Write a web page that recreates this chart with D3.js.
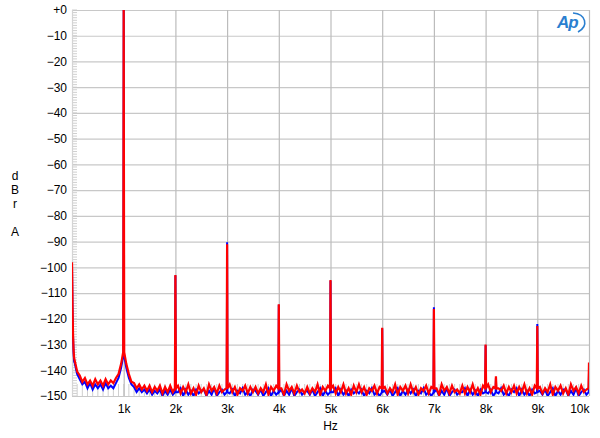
<!DOCTYPE html>
<html>
<head>
<meta charset="utf-8">
<script src="https://cdn.jsdelivr.net/npm/d3@7"></script>
<style>
  body { margin: 0; background: #fff; }
  text { font-family: "Liberation Sans", Arial, sans-serif; fill: #000; }
</style>
</head>
<body>
<div id="chart"></div>
<script>
var width = 600,
    height = 438,
    margin = {top: 10, right: 11, bottom: 42, left: 72};

// floor of the spectrum, one value every 50 Hz from 0 to 10 kHz
var floorStep = 50;

var redFloor = [
  -98, -136, -140.5, -142, -144.5, -143, -145.5, -144, -146, -143.5,
  -145.5, -144, -146, -143.5, -145.5, -144, -145, -143, -141.5, -137.5,
  -133, -137.5, -141.5, -144.5, -145, -147, -145.5, -147.5, -146, -148,
  -146, -148.5, -146.5, -148, -146, -149, -146.5, -148.5, -146, -148.5,
  -147,
  -146, -149, -146.5, -148.5, -145.5, -149, -147, -149.5, -146, -148.5,
  -147, -149.5, -145.5, -148, -146.5, -149, -146, -148.5, -147.5, -149,
  -145.5, -148.5, -146.5, -149.5, -147, -148, -146, -149, -146.5, -148.5,
  -146.5, -149, -147, -148.5, -145.5, -149.5, -146.5, -148, -146, -149,
  -147, -149.5, -145.5, -148, -146.5, -149, -146, -148.5, -147.5, -149,
  -146.5, -149, -147, -148.5, -145.5, -149.5, -146.5, -148, -146, -149,
  -146, -149, -146.5, -148.5, -145.5, -149, -147, -149.5, -146, -148.5,
  -145.5, -148.5, -146.5, -149.5, -147, -148, -146, -149, -146.5, -148.5,
  -146.5, -149, -147, -148.5, -145.5, -149.5, -146.5, -148, -146, -149,
  -145.5, -148.5, -146.5, -149.5, -147, -148, -146, -149, -146.5, -148.5,
  -147, -149.5, -145.5, -148, -146.5, -149, -146, -148.5, -147.5, -149,
  -146, -149, -146.5, -148.5, -145.5, -149, -147, -149.5, -146, -148.5,
  -145.5, -148.5, -146.5, -149.5, -147, -148, -146, -149, -146.5, -148.5,
  -146, -149, -146.5, -148.5, -145.5, -149, -147, -149.5, -146, -148.5,
  -146.5, -149, -147, -148.5, -145.5, -149.5, -146.5, -148, -146, -149,
  -147, -149.5, -145.5, -148, -146.5, -149, -146, -148.5, -147.5, -149
];

var blueFloor = [
  -98.5, -137, -141.5, -143.5, -145.5, -144.5, -147, -145, -147.5, -145.5,
  -147, -145.5, -147.5, -145, -147, -146, -147, -145, -143, -139,
  -134, -139, -143, -145.5, -146.5, -148.5, -147, -148.5, -147.5, -149,
  -147.5, -149.5, -148, -149, -147.5, -150, -148, -149.5, -147.5, -149.5,
  -148.5,
  -148.5, -147, -150, -147.5, -149.5, -148, -150.5, -147.5, -149, -148,
  -147.5, -150, -148, -149.5, -147, -150, -148.5, -147.5, -149.5, -148.5,
  -149, -147.5, -150.5, -148, -149, -147, -149.5, -148.5, -150, -147.5,
  -148, -149.5, -147.5, -150, -148.5, -147, -150, -148, -149.5, -147.5,
  -147.5, -150, -148, -149.5, -147, -150, -148.5, -147.5, -149.5, -148.5,
  -148, -149.5, -147.5, -150, -148.5, -147, -150, -148, -149.5, -147.5,
  -148.5, -147, -150, -147.5, -149.5, -148, -150.5, -147.5, -149, -148,
  -149, -147.5, -150.5, -148, -149, -147, -149.5, -148.5, -150, -147.5,
  -148, -149.5, -147.5, -150, -148.5, -147, -150, -148, -149.5, -147.5,
  -149, -147.5, -150.5, -148, -149, -147, -149.5, -148.5, -150, -147.5,
  -147.5, -150, -148, -149.5, -147, -150, -148.5, -147.5, -149.5, -148.5,
  -148.5, -147, -150, -147.5, -149.5, -148, -150.5, -147.5, -149, -148,
  -149, -147.5, -150.5, -148, -149, -147, -149.5, -148.5, -150, -147.5,
  -148.5, -147, -150, -147.5, -149.5, -148, -150.5, -147.5, -149, -148,
  -148, -149.5, -147.5, -150, -148.5, -147, -150, -148, -149.5, -147.5,
  -147.5, -150, -148, -149.5, -147, -150, -148.5, -147.5, -149.5, -148.5
];

// steep rise towards DC
var lowFreqs = [10, 20, 30, 40];
var redLow  = [-115, -126, -132, -135];
var blueLow = [-116, -127, -133, -136.5];

// harmonic spikes: [freq, top dB, base dB]
var redPeaks = [
  [1000, 0, -133], [2000, -103, -147], [3000, -91, -147], [4000, -114.3, -147],
  [5000, -104.9, -147], [6000, -123.5, -147], [7000, -116.2, -147],
  [8000, -130, -147], [8200, -142.3, -147], [9000, -122.8, -147], [10000, -137, -147]
];
var bluePeaks = [
  [1000, 0, -134], [2000, -103.2, -148.5], [3000, -90.3, -148.5], [4000, -114.5, -148.5],
  [5000, -105.2, -148.5], [6000, -123.8, -148.5], [7000, -115.5, -148.5],
  [8000, -130.3, -148.5], [8200, -143, -148.5], [9000, -122, -148.5], [10000, -141, -148.5]
];

var yTicks = d3.range(0, -151, -10);
var xTicks = d3.range(1000, 10001, 1000);

var x = d3.scaleLinear().domain([0, 10000]).range([margin.left, width - margin.right]);
var y = d3.scaleLinear().domain([0, -150]).range([margin.top, height - margin.bottom]);

var svg = d3.select("#chart").append("svg")
    .attr("width", width)
    .attr("height", height);

// minor ticks
svg.append("g").selectAll("line")
  .data(d3.range(0, -151, -1))
  .enter().append("line")
    .attr("x1", x(0)).attr("x2", x(0) + 5)
    .attr("y1", d => y(d)).attr("y2", d => y(d))
    .style("stroke", "#cfcfcf").style("stroke-width", 1);

svg.append("g").selectAll("line")
  .data(d3.range(100, 10000, 100))
  .enter().append("line")
    .attr("x1", d => x(d)).attr("x2", d => x(d))
    .attr("y1", y(-150)).attr("y2", y(-150) - 12)
    .style("stroke", "#cfcfcf").style("stroke-width", 1);

// grid
svg.append("g").selectAll("line")
  .data(yTicks)
  .enter().append("line")
    .attr("x1", x(0)).attr("x2", x(10000))
    .attr("y1", d => y(d) + 0.5).attr("y2", d => y(d) + 0.5)
    .style("stroke", "#c8c8c8").style("stroke-width", 1.2);

svg.append("g").selectAll("line")
  .data([0].concat(xTicks))
  .enter().append("line")
    .attr("x1", d => x(d) + 0.5).attr("x2", d => x(d) + 0.5)
    .attr("y1", y(0)).attr("y2", y(-150))
    .style("stroke", d => d === 0 ? "#d4d4d4" : "#bcbcbc").style("stroke-width", 1.2);

// traces
function buildTrace(floor, low, peaks, half) {
  var pts = floor.map(function(v, i) { return [i * floorStep, v]; });
  lowFreqs.forEach(function(f, i) { pts.push([f, low[i]]); });
  peaks.forEach(function(p) {
    pts = pts.filter(function(q) { return q[0] !== p[0]; });
    pts.push([p[0] - half, p[2]], [p[0], p[1]], [p[0] + half, p[2]]);
  });
  return pts.sort(function(a, b) { return a[0] - b[0]; });
}

svg.append("clipPath").attr("id", "plot")
  .append("rect")
    .attr("x", x(0)).attr("y", y(0) - 2)
    .attr("width", x(10000) - x(0)).attr("height", y(-150) - y(0) + 2);

var line = d3.line()
    .x(d => x(d[0]))
    .y(d => y(Math.max(d[1], -150)));

svg.append("path")
  .datum(buildTrace(blueFloor, blueLow, bluePeaks, 6))
  .attr("clip-path", "url(#plot)")
  .attr("d", line)
  .style("fill", "none").style("stroke", "#0000ff").style("stroke-width", 2)
  .style("stroke-linejoin", "miter");

svg.append("path")
  .datum(buildTrace(redFloor, redLow, redPeaks, 10))
  .attr("clip-path", "url(#plot)")
  .attr("d", line)
  .style("fill", "none").style("stroke", "#ff0000").style("stroke-width", 2.2)
  .style("stroke-linejoin", "miter");

// axes
var yAxis = svg.append("g")
    .attr("transform", "translate(" + (x(0) - 1) + ",0)")
    .call(d3.axisLeft(y).tickValues(yTicks).tickSize(0).tickPadding(4)
      .tickFormat(d => d === 0 ? "+0" : d3.format("d")(d)));
yAxis.select(".domain").remove();
yAxis.selectAll("text").style("font-size", "12px");

var xAxis = svg.append("g")
    .attr("transform", "translate(0," + y(-150) + ")")
    .call(d3.axisBottom(x).tickValues(xTicks).tickSize(0).tickPadding(8)
      .tickFormat(d => (d / 1000) + "k"));
xAxis.select(".domain").remove();
xAxis.selectAll("text").style("font-size", "12px")
  .filter(d => d === 10000).attr("text-anchor", "end");

svg.append("text")
    .attr("x", (x(0) + x(10000)) / 2).attr("y", 430)
    .attr("text-anchor", "middle").style("font-size", "12px")
    .text("Hz");

var yLabel = ["d", "B", "r", "", "A"];
svg.append("g").selectAll("text")
  .data(yLabel)
  .enter().append("text")
    .attr("x", 15).attr("y", (d, i) => 180 + i * 14)
    .attr("text-anchor", "middle").style("font-size", "12px")
    .text(d => d);

// AP logo
var logo = svg.append("g").attr("transform", "translate(556,12)");
logo.append("text")
    .attr("x", 1).attr("y", 16)
    .style("font-size", "17px").style("font-style", "italic").style("font-weight", "bold")
    .style("fill", "#2a7fd0").style("letter-spacing", "-1px")
    .text("Ap");
logo.append("path")
    .attr("d", "M17,1 C30,2 33,14 22,20")
    .style("fill", "none").style("stroke", "#2a7fd0").style("stroke-width", 1.6);
</script>
</body>
</html>
